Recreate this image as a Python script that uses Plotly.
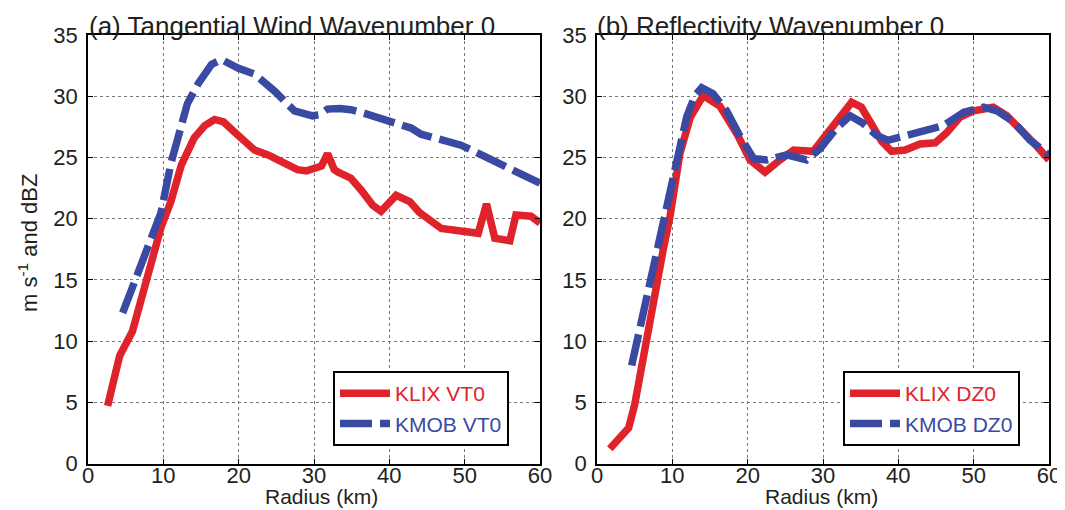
import plotly.graph_objects as go

# ---- data ----
r_klix_vt = [2.6, 4.2, 5.9, 7.9, 9.7, 11.0, 12.4, 14.1, 15.5, 16.8, 18.0, 19.4, 20.8, 22.1, 23.9, 25.6, 27.0, 27.8,
             29.0, 30.1, 31.0, 31.8, 32.7, 33.2, 34.9, 36.3, 37.8, 38.9, 40.9, 42.7, 44.0, 46.9, 48.0, 51.8, 52.9,
             54.0, 56.0, 56.8, 58.8, 60.0]
v_klix_vt = [4.7, 8.8, 10.8, 15.4, 19.3, 21.4, 24.4, 26.6, 27.6, 28.1, 27.9, 27.1, 26.4, 25.6, 25.2, 24.7, 24.2, 24.0,
             23.9, 24.1, 24.3, 25.3, 24.0, 23.8, 23.3, 22.3, 21.1, 20.6, 21.9, 21.4, 20.5, 19.2, 19.1, 18.8, 21.2,
             18.4, 18.2, 20.3, 20.2, 19.65]

r_kmob_vt = [4.6, 6.6, 8.4, 9.7, 11.0, 12.3, 13.2, 14.6, 16.4, 17.7, 19.9, 22.1, 24.8, 27.4, 29.8, 30.8, 31.8, 33.4,
             34.9, 36.7, 38.9, 40.0, 42.9, 44.2, 45.6, 48.2, 49.5, 50.9, 52.6, 54.9, 57.1, 60.0]
v_kmob_vt = [12.3, 15.6, 18.3, 20.5, 24.5, 27.5, 29.4, 31.0, 32.6, 33.0, 32.3, 31.8, 30.4, 28.8, 28.4, 28.5, 28.95,
             29.0, 28.9, 28.6, 28.2, 28.0, 27.4, 26.9, 26.7, 26.3, 26.0, 25.6, 25.1, 24.4, 23.7, 22.9]

r_klix_dz = [1.7, 3.3, 4.2, 5.0, 5.7, 6.6, 7.7, 8.8, 9.7, 11.0, 12.4, 14.1, 16.3, 18.6, 20.3, 22.3, 24.3, 26.1,
             28.7, 31.4, 33.8, 35.1, 36.2, 37.8, 39.1, 40.9, 42.9, 44.9, 46.4, 48.2, 50.0, 52.6, 54.4, 56.4, 58.4, 60.0]
v_klix_dz = [1.2, 2.3, 2.9, 4.8, 7.2, 10.7, 14.3, 17.5, 20.2, 25.3, 28.3, 30.05, 29.2, 26.9, 24.8, 23.8, 24.8, 25.6,
             25.5, 27.5, 29.5, 29.1, 27.9, 26.3, 25.5, 25.6, 26.1, 26.2, 27.0, 28.3, 28.8, 29.1, 28.4, 27.2, 25.9, 24.8]

r_kmob_dz = [4.6, 5.7, 7.0, 8.1, 9.3, 10.6, 11.9, 13.0, 13.9, 15.4, 17.2, 19.0, 20.8, 22.5, 25.2, 27.8, 29.6, 31.8,
             33.6, 35.3, 37.1, 38.6, 41.1, 43.8, 46.0, 48.7, 51.3, 53.1, 55.3, 57.5, 60.0]
v_kmob_dz = [8.0, 11.0, 14.8, 17.8, 20.7, 24.2, 28.3, 30.05, 30.7, 30.2, 28.8, 26.7, 24.9, 24.8, 25.2, 24.8, 25.7,
             27.4, 28.4, 27.8, 26.8, 26.4, 26.8, 27.1, 27.6, 28.7, 29.1, 28.8, 27.9, 26.4, 25.2]

x_ticks = [0, 10, 20, 30, 40, 50, 60]
y_ticks = [0, 5, 10, 15, 20, 25, 30, 35]

RED = "#E0232A"
BLUE = "#3A4AA3"
TXT = "#231F20"
FONT = "Liberation Sans, Arial, Helvetica, sans-serif"

# the page body has an 8 px margin, so the figure is drawn 8 px in from the window corner
OFF = 8
W, H = 1065 - OFF, 510 - OFF


def px(sx):
    return (sx - OFF) / W


def py(sy):
    return 1 - (sy - OFF) / H


fig = go.Figure()
fig.add_trace(go.Scatter(x=r_klix_vt, y=v_klix_vt, mode="lines", xaxis="x", yaxis="y",
                         line=dict(color=RED, width=7.5), legend="legend",
                         name="<span style='color:%s'>KLIX VT0</span>" % RED))
fig.add_trace(go.Scatter(x=r_kmob_vt, y=v_kmob_vt, mode="lines", xaxis="x", yaxis="y",
                         line=dict(color=BLUE, width=7.5, dash="32px,8px"), legend="legend",
                         name="<span style='color:%s'>KMOB VT0</span>" % BLUE))
fig.add_trace(go.Scatter(x=r_klix_dz, y=v_klix_dz, mode="lines", xaxis="x2", yaxis="y2",
                         line=dict(color=RED, width=7.5), legend="legend2",
                         name="<span style='color:%s'>KLIX DZ0</span>" % RED))
fig.add_trace(go.Scatter(x=r_kmob_dz, y=v_kmob_dz, mode="lines", xaxis="x2", yaxis="y2",
                         line=dict(color=BLUE, width=7.5, dash="32px,8px"), legend="legend2",
                         name="<span style='color:%s'>KMOB DZ0</span>" % BLUE))

ydom = [py(463.5), py(35)]


def xax(dom, anchor):
    return dict(domain=dom, anchor=anchor, range=[0, 60], tickvals=x_ticks, ticks="inside", ticklen=5,
                tickcolor="black", showline=True, linecolor="black", linewidth=1.5, mirror="ticks",
                showgrid=True, gridcolor="#777777", griddash="dot", gridwidth=1, zeroline=False,
                automargin=False, ticklabelstandoff=-9,
                tickfont=dict(size=22, color=TXT, family=FONT))


def yax(anchor):
    return dict(domain=ydom, anchor=anchor, range=[0, 35], tickvals=y_ticks, ticks="inside", ticklen=5,
                tickcolor="black", showline=True, linecolor="black", linewidth=1.5, mirror="ticks",
                showgrid=True, gridcolor="#777777", griddash="dot", gridwidth=1, zeroline=False,
                automargin=False, ticklabelstandoff=4, tickfont=dict(size=22, color=TXT, family=FONT))


leg_common = dict(xanchor="left", yanchor="top", bordercolor="black", borderwidth=2, bgcolor="white",
                  font=dict(size=21, family=FONT), itemwidth=50, tracegroupgap=0)

fig.update_layout(
    width=W, height=H, margin=dict(l=0, r=0, t=0, b=0, autoexpand=False),
    paper_bgcolor="white", plot_bgcolor="white",
    font=dict(family=FONT, color=TXT),
    xaxis=xax([px(88), px(540)], "y"),
    yaxis=yax("x"),
    xaxis2=xax([px(597), px(1049)], "y2"),
    yaxis2=yax("x2"),
    legend=dict(x=px(333), y=py(371), **leg_common),
    legend2=dict(x=px(843), y=py(371), **leg_common),
    showlegend=True,
    annotations=[
        dict(text="(a) Tangential Wind Wavenumber 0", xref="paper", yref="paper", x=px(87), y=py(9),
             xanchor="left", yanchor="top", showarrow=False, font=dict(size=26, color=TXT, family=FONT)),
        dict(text="(b) Reflectivity Wavenumber 0", xref="paper", yref="paper", x=px(595), y=py(9),
             xanchor="left", yanchor="top", showarrow=False, font=dict(size=26, color=TXT, family=FONT)),
        dict(text="m s<sup>-1</sup> and dBZ", xref="paper", yref="paper", x=px(28), y=py(243),
             xanchor="center", yanchor="middle", textangle=-90, showarrow=False,
             font=dict(size=22, color=TXT, family=FONT)),
        dict(text="Radius (km)", xref="paper", yref="paper", x=px(321), y=py(496),
             xanchor="center", yanchor="middle", showarrow=False, font=dict(size=21, color=TXT, family=FONT)),
        dict(text="Radius (km)", xref="paper", yref="paper", x=px(821), y=py(496),
             xanchor="center", yanchor="middle", showarrow=False, font=dict(size=21, color=TXT, family=FONT)),
    ],
)

fig.write_html("out.html")
